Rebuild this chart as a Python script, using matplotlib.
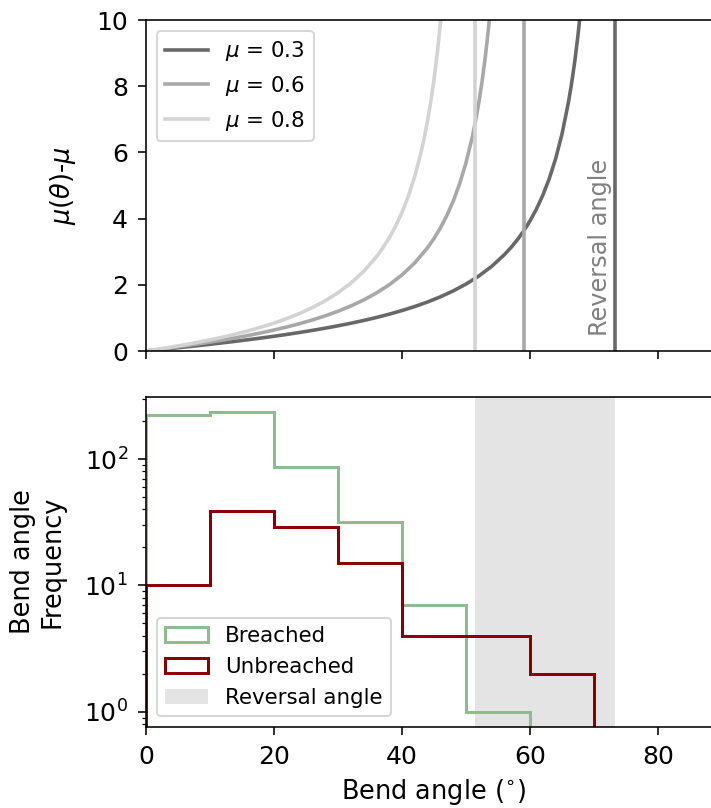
import matplotlib
matplotlib.use("Agg")
import matplotlib.pyplot as plt

# ---- data ----
mu_values = [0.3, 0.6, 0.8]
mu_colors = ["#686868", "#a8a8a8", "#d3d3d3"]
reversal_angles = [73.3, 59.04, 51.34]

theta_03 = [0, 2, 4, 6, 8, 10, 12, 14, 16, 18, 20, 22, 24, 26, 28, 30, 32, 34, 36, 38, 40,
            42, 44, 46, 48, 50, 52, 54, 56, 57, 58, 59, 60, 61, 62, 63, 64, 65, 66, 66.5, 67, 67.5, 68]
curve_03 = [0, 0.0385, 0.0779, 0.1183, 0.1599, 0.2029, 0.2475, 0.2937, 0.3420, 0.3924, 0.4454,
            0.5011, 0.5601, 0.6228, 0.6896, 0.7611, 0.8383, 0.9217, 1.0127, 1.1123, 1.2223,
            1.3447, 1.4819, 1.6374, 1.8154, 2.0219, 2.2648, 2.5554, 2.9105, 3.1196, 3.3552,
            3.6230, 3.9300, 4.2861, 4.7042, 5.2022, 5.8061, 6.5542, 7.5054, 8.0853, 8.7567,
            9.5435, 10.478]

theta_06 = [0, 2, 4, 6, 8, 10, 12, 14, 16, 18, 20, 22, 24, 26, 28, 30, 32, 34, 36, 38, 40,
            42, 44, 45, 46, 47, 48, 49, 50, 51, 51.5, 52, 52.5, 53, 53.5, 54]
curve_06 = [0, 0.0485, 0.0993, 0.1526, 0.2087, 0.2682, 0.3313, 0.3987, 0.4710, 0.5489, 0.6333,
            0.7253, 0.8262, 0.9377, 1.0619, 1.2014, 1.3595, 1.5410, 1.7517, 2.0002, 2.2983,
            2.6634, 3.1226, 3.4000, 3.7190, 4.0900, 4.5272, 5.0504, 5.6880, 6.4829, 6.9588,
            7.5019, 8.1280, 8.8566, 9.7170, 10.747]

theta_08 = [0, 2, 4, 6, 8, 10, 12, 14, 16, 18, 20, 22, 24, 26, 28, 30, 32, 34, 36, 37, 38,
            39, 40, 41, 42, 43, 43.5, 44, 44.5, 45, 45.5, 46, 46.5]
curve_08 = [0, 0.0589, 0.1215, 0.1882, 0.2597, 0.3367, 0.4200, 0.5108, 0.6103, 0.7200, 0.8421,
            0.9791, 1.1341, 1.3117, 1.5175, 1.7596, 2.0492, 2.4027, 2.8453, 3.1116, 3.4171,
            3.7710, 4.1863, 4.6809, 5.2798, 6.0214, 6.4622, 6.9630, 7.5366, 8.2000, 8.9767,
            9.8981, 11.009]

theta_list = [theta_03, theta_06, theta_08]
curve_list = [curve_03, curve_06, curve_08]

bin_edges = [0, 10, 20, 30, 40, 50, 60, 70]
bin_left = [0, 10, 20, 30, 40, 50, 60]
breached_counts = [224, 235, 87, 32, 7, 1, 0]
unbreached_counts = [10, 39, 29, 15, 4, 4, 2]

# ---- figure ----
W, H, DPI = 711, 808, 144
fig = plt.figure(figsize=(W / DPI, H / DPI), dpi=DPI)
plt.rcParams["font.size"] = 12.5
TFS = 12.5
LFS = 12.8
LEG = 10.7

left = 146 / W
width = (722 - 146) / W
ax1 = fig.add_axes([left, 1 - 351 / H, width, (351 - 20) / H])
ax2 = fig.add_axes([left, 1 - 727 / H, width, (727 - 397) / H], sharex=ax1)

for mu, col, th, cv, ra in zip(mu_values, mu_colors, theta_list, curve_list, reversal_angles):
    ax1.plot(th, cv, color=col, lw=1.8, label=r"$\mu$ = %s" % mu)
    ax1.axvline(ra, color=col, lw=1.8)

ax1.text(70.9, 0.45, "Reversal angle", rotation=90, color="#808080",
         ha="center", va="bottom", fontsize=12)
ax1.set_ylim(0, 10)
ax1.set_xlim(0, 90)
ax1.set_ylabel(r"$\mu(\theta)$-$\mu$", fontsize=LFS)
ax1.yaxis.set_label_coords(-0.118, 0.5)
ax1.legend(loc="upper left", fontsize=LEG)
ax1.tick_params(labelbottom=False, labelsize=TFS, pad=5, length=4)
ax1.spines["right"].set_visible(False)

ax2.axvspan(reversal_angles[2], reversal_angles[0], color="#e4e4e4", lw=0,
            label="Reversal angle", zorder=0)
ax2.hist(bin_left, bins=bin_edges, weights=breached_counts, histtype="step",
         color="darkseagreen", lw=1.5, log=True, label="Breached")
ax2.hist(bin_left, bins=bin_edges, weights=unbreached_counts, histtype="step",
         color="darkred", lw=1.5, log=True, label="Unbreached")
ax2.set_ylim(0.757, 310)
ax2.set_xlim(0, 90)
ax2.set_xticks([0, 20, 40, 60, 80])
ax2.set_xlabel(r"Bend angle ($^{\circ}$)", fontsize=LFS)
ax2.set_ylabel("Bend angle\nFrequency", fontsize=LFS)
ax2.yaxis.set_label_coords(-0.139, 0.5)
ax2.tick_params(which="major", labelsize=TFS, pad=5, length=4)
ax2.tick_params(which="minor", length=2)
ax2.spines["right"].set_visible(False)
h, l = ax2.get_legend_handles_labels()
order = [l.index("Breached"), l.index("Unbreached"), l.index("Reversal angle")]
ax2.legend([h[i] for i in order], [l[i] for i in order], loc="lower left", fontsize=LEG)

fig.savefig("out.png", dpi=DPI)
